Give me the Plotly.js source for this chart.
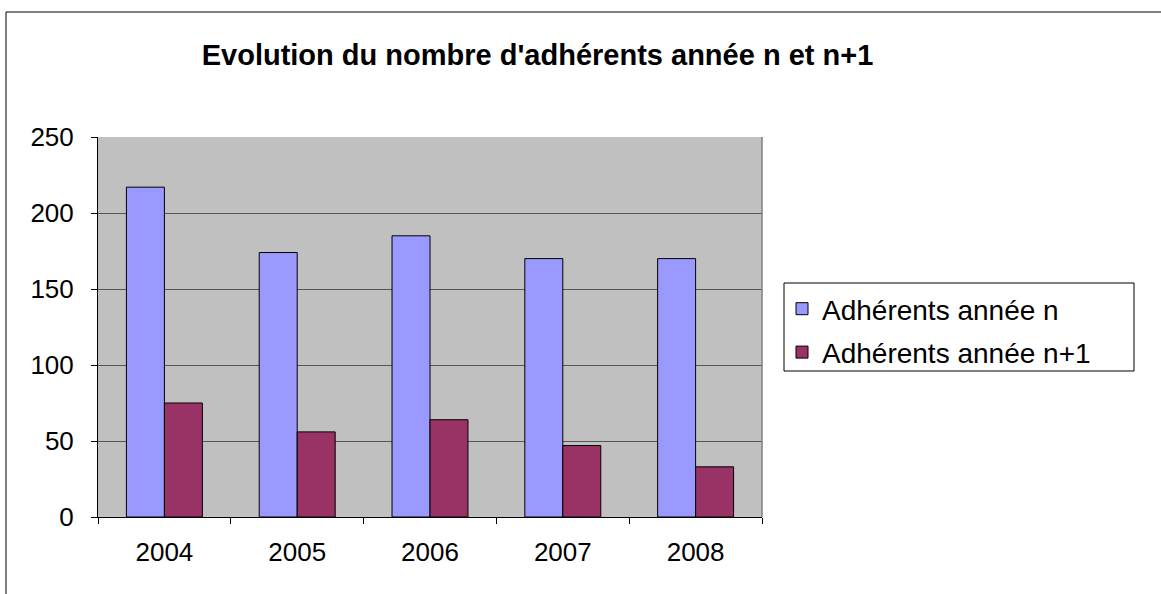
<!DOCTYPE html>
<html>
<head>
<meta charset="utf-8">
<script src="https://cdn.plot.ly/plotly-3.0.1.min.js"></script>
<style>html,body{margin:0;padding:0;background:#fff;}#chart{width:1161px;height:594px;}</style>
</head>
<body>
<div id="chart"></div>
<script>
const years = ["2004", "2005", "2006", "2007", "2008"];
const adherentsN = [217, 174, 185, 170, 170];
const adherentsN1 = [75, 56, 64, 47, 33];
const seriesNames = ["Adhérents année n", "Adhérents année n+1"];
const yTicks = [0, 50, 100, 150, 200, 250];
const chartTitle = "Evolution du nombre d'adhérents année n et n+1";

const FONT = "Liberation Sans, Arial, sans-serif";

const traces = [
  {type: "bar", x: years, y: adherentsN, name: seriesNames[0], legendgroup: "a",
   marker: {color: "#9999ff", line: {color: "#000000", width: 1}}, hoverinfo: "x+y+name"},
  {type: "bar", x: years, y: adherentsN1, name: seriesNames[1], legendgroup: "b",
   marker: {color: "#993366", line: {color: "#000000", width: 1}}, hoverinfo: "x+y+name"}
];

const L = 98, R = 762, T = 137, B = 517;
const W = 1161, H = 594;
const pw = R - L, ph = B - T;
function px2x(p){ return (p - L) / pw; }
function py2y(p){ return (B - p) / ph; }

const layout = {
  width: W, height: H,
  margin: {l: L, r: W - R, t: T, b: H - B, pad: 0},
  paper_bgcolor: "#ffffff",
  plot_bgcolor: "#c0c0c0",
  font: {family: FONT, size: 26, color: "#000000"},
  barmode: "group",
  bargap: 0.428,
  bargroupgap: 0,
  showlegend: true,
  title: {
    text: "<b>" + chartTitle + "</b>",
    font: {family: FONT, size: 29, color: "#000000"},
    xref: "paper", x: px2x(537.5), xanchor: "center",
    yref: "container", y: 1 - 55 / H, yanchor: "middle"
  },
  xaxis: {
    type: "category",
    showgrid: false,
    showline: true, linecolor: "#000000", linewidth: 1,
    ticks: "outside", tickson: "boundaries", ticklen: 6, tickcolor: "#000000", tickwidth: 1,
    tickfont: {family: FONT, size: 26, color: "#000000"},
    ticklabelstandoff: 12,
    zeroline: false
  },
  yaxis: {
    range: [0, 250],
    tickvals: yTicks,
    showgrid: true, gridcolor: "#555555", gridwidth: 1,
    showline: true, linecolor: "#000000", linewidth: 1,
    ticks: "outside", ticklen: 6, tickcolor: "#000000", tickwidth: 1,
    tickfont: {family: FONT, size: 26, color: "#000000"},
    ticklabelstandoff: 12,
    zeroline: false
  },
  legend: {
    x: px2x(782), xanchor: "left",
    y: py2y(284), yanchor: "top",
    bgcolor: "rgba(0,0,0,0)",
    borderwidth: 0,
    font: {family: FONT, size: 28, color: "#000000"},
    traceorder: "grouped",
    tracegroupgap: 4,
    itemwidth: 30
  },
  shapes: [
    {type: "rect", xref: "paper", yref: "paper", x0: 1, x1: 1, y0: 0, y1: 1,
     line: {color: "#808080", width: 1}},
    {type: "rect", xref: "paper", yref: "paper",
     x0: px2x(6), x1: px2x(1200), y0: py2y(640), y1: py2y(12),
     line: {color: "#000000", width: 1}, layer: "below"},
    {type: "rect", xref: "paper", yref: "paper",
     x0: px2x(784), x1: px2x(1134), y0: py2y(371), y1: py2y(283),
     line: {color: "#000000", width: 1}, fillcolor: "#ffffff", layer: "below"}
  ]
};

Plotly.newPlot("chart", traces, layout, {displayModeBar: false, staticPlot: true});
</script>
</body>
</html>
